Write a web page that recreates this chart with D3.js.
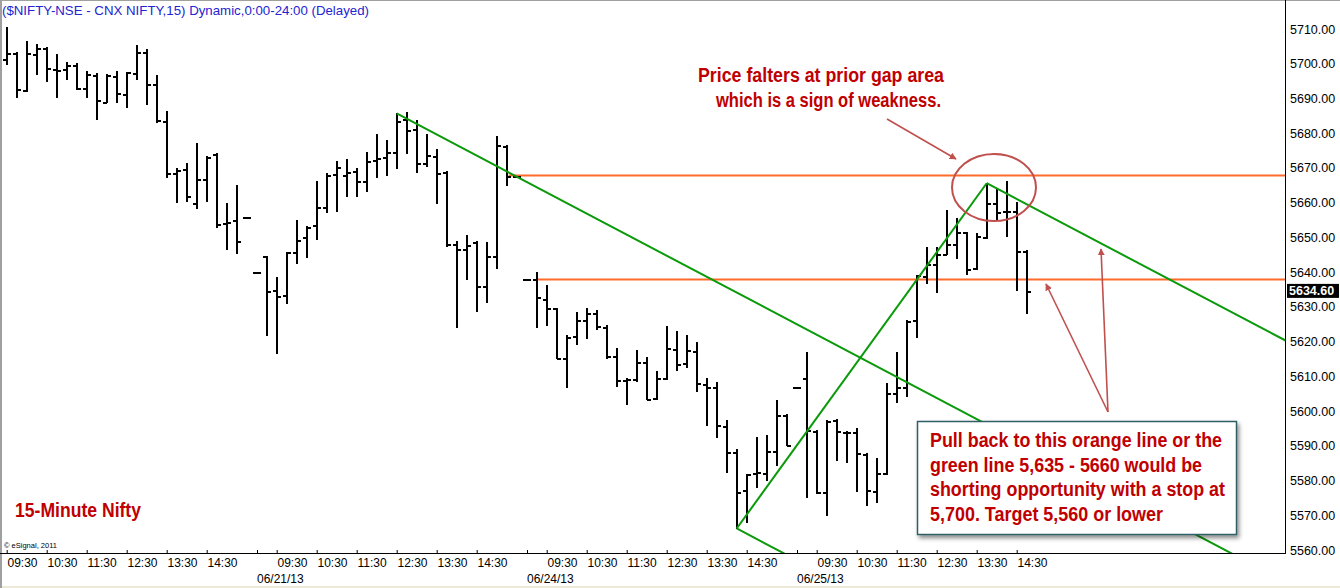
<!DOCTYPE html>
<html><head><meta charset="utf-8">
<script src="https://cdn.jsdelivr.net/npm/d3@7"></script>
<style>body{margin:0;background:#fff;overflow:hidden}svg{display:block}</style>
</head><body><svg id="c" width="1340" height="588"></svg>
<script>
// ---- data (15-minute bars, index = slot on the time axis) ----
const opens  = [5701.3,5703.2,5692.4,5702.8,5704.6,5698.5,5698.4,5699.6,5693.1,5696.8,5689.1,5696.5,5691.3,5697.2,5703.5,5694.2,5683.6,5668.6,5669.8,5660.0,5666.9,5674.0,5654.2,5655.0,5655.8,
  5639.9,5644.7,5634.8,5633.4,5645.8,5650.0,5653.7,5658.7,5668.2,5668.0,5669.2,5666.1,5672.3,5673.2,5674.7,5684.0,5681.1,5671.5,5673.5,5668.9,5648.1,5646.7,5648.8,5636.0,5644.6,5676.3,5667.7,
  5637.9,5637.9,5632.4,5629.6,5615.4,5621.6,5626.2,5628.1,5624.3,5615.8,5609.0,5609.1,5614.2,5603.7,5609.4,5618.0,5613.7,5617.4,5607.8,5607.0,5595.7,5588.3,5577.3,5582.1,5582.3,5588.5,5598.9,
  5606.8,5609.4,5594.3,5576.8,5597.4,5594.0,5594.0,5587.6,5577.1,5582.3,5605.1,5606.8,5626.2,5638.9,5642.3,5645.1,5648.1,5651.6,5641.1,5650.2,5659.8,5657.7,5657.7,5646.2];
const highs  = [5710.7,5703.4,5706.5,5705.7,5704.9,5702.7,5700.4,5700.1,5697.9,5697.4,5697.0,5697.9,5697.7,5705.4,5704.1,5696.7,5686.4,5669.9,5671.3,5677.3,5673.4,5674.2,5659.8,5665.0,5655.8,
  5639.9,5644.7,5638.5,5645.7,5655.0,5653.3,5666.2,5668.4,5672.0,5672.6,5669.9,5674.6,5679.8,5678.0,5685.7,5686.0,5683.8,5679.8,5675.4,5669.0,5649.1,5650.6,5649.1,5648.8,5679.3,5676.5,5667.7,
  5637.9,5639.9,5636.3,5629.8,5621.9,5628.4,5629.6,5629.1,5624.8,5618.1,5609.4,5617.6,5615.7,5611.5,5624.5,5623.0,5621.9,5619.8,5609.4,5608.5,5597.4,5589.0,5581.9,5592.4,5593.1,5603.2,5599.1,
  5606.8,5616.9,5594.5,5597.4,5597.7,5594.2,5595.0,5587.8,5586.4,5608.0,5617.1,5626.2,5639.2,5647.3,5647.1,5657.9,5655.7,5651.6,5651.3,5665.6,5664.1,5666.2,5660.3,5646.4];
const lows   = [5699.8,5690.5,5692.2,5697.0,5695.0,5690.5,5695.5,5692.8,5690.3,5684.0,5689.1,5688.9,5687.4,5695.6,5688.3,5683.2,5667.5,5660.1,5660.6,5658.6,5660.6,5652.9,5646.6,5645.6,5655.8,
  5639.9,5621.9,5616.6,5631.2,5642.5,5644.3,5649.6,5657.4,5657.7,5662.0,5662.0,5663.5,5667.5,5668.1,5670.1,5674.4,5668.9,5670.6,5660.0,5647.6,5624.3,5638.1,5628.7,5631.3,5641.1,5665.0,5667.7,
  5637.9,5624.3,5624.8,5615.2,5606.8,5619.3,5621.1,5623.5,5615.2,5607.3,5602.0,5608.6,5603.4,5603.4,5609.1,5611.8,5612.8,5605.9,5596.0,5592.6,5582.5,5566.2,5568.1,5578.0,5580.1,5584.5,5590.2,
  5606.8,5575.3,5576.3,5570.1,5585.9,5585.4,5577.1,5572.9,5573.7,5581.9,5602.5,5604.4,5621.4,5637.0,5634.4,5645.1,5644.0,5639.4,5640.9,5649.7,5655.0,5650.5,5634.8,5628.1];
const closes = [5703.2,5692.6,5703.0,5704.4,5698.8,5698.3,5699.6,5693.0,5697.0,5689.6,5696.8,5691.5,5697.5,5703.3,5694.2,5683.8,5668.6,5669.4,5661.9,5666.9,5673.2,5653.9,5654.4,5649.1,5655.8,
  5639.9,5634.7,5633.1,5645.7,5649.2,5653.0,5658.8,5668.1,5670.2,5668.7,5666.1,5672.1,5672.9,5674.6,5683.6,5680.9,5671.3,5673.7,5668.6,5648.0,5646.8,5647.8,5636.0,5644.6,5676.7,5667.8,5667.7,
  5637.9,5632.9,5629.8,5615.4,5621.4,5626.2,5628.3,5624.5,5615.8,5609.0,5609.1,5614.2,5603.5,5609.6,5618.2,5613.5,5617.6,5608.0,5607.0,5596.0,5588.3,5576.8,5581.8,5582.4,5588.6,5598.9,5590.2,
  5606.8,5594.5,5576.8,5597.1,5594.3,5594.0,5587.8,5577.3,5582.3,5605.1,5606.8,5626.0,5639.2,5642.3,5645.1,5648.1,5651.6,5640.9,5650.5,5659.8,5657.4,5657.7,5646.2,5634.6];

const timeLabels = ["09:30","10:30","11:30","12:30","13:30","14:30"];
const dayStartSlots = [-2, 25, 52, 79];
const dateLabels = ["", "06/21/13", "06/24/13", "06/25/13"];
const yTickValues = [5560,5570,5580,5590,5600,5610,5620,5630,5640,5650,5660,5670,5680,5690,5700,5710];
const lastPrice = 5634.60;
const gapLevelPrices = [5668, 5638];
const gapLevelStarts = [50.2, 53];
// trend lines: [startSlot, startPrice, endSlot, endPrice]
const trendLines = [
  [39, 5685.7, 125, 5555.2],
  [73, 5566.2, 85, 5548.0],
  [73, 5566.2, 98, 5665.6],
  [98, 5665.6, 130, 5617.1]
];
const titleText = "($NIFTY-NSE - CNX NIFTY,15) Dynamic,0:00-24:00 (Delayed)";
const noteTop = ["Price falters at prior gap area", "which is a sign of weakness."];
const noteBox = ["Pull back to this orange line or the", "green line 5,635 - 5660 would be", "shorting opportunity with a stop at", "5,700. Target 5,560 or lower"];
const chartLabel = "15-Minute Nifty";

// ---- layout ----
const svg = d3.select("#c");
const plotRight = 1285, plotBottom = 553;
const x = d3.scaleLinear().domain([0, 102]).range([6.7, 1026.7]);
const y = d3.scaleLinear().domain([5560, 5710]).range([550, 29]);

const defs = svg.append("defs");
defs.append("clipPath").attr("id","plotclip").append("rect").attr("x",0).attr("y",0).attr("width",plotRight).attr("height",plotBottom);
const f = defs.append("filter").attr("id","sh").attr("x","-10%").attr("y","-10%").attr("width","130%").attr("height","140%");
f.append("feDropShadow").attr("dx",2).attr("dy",3).attr("stdDeviation",2).attr("flood-color","#000").attr("flood-opacity",0.45);
const mk = defs.append("marker").attr("id","arr").attr("viewBox","0 0 10 10").attr("refX",9).attr("refY",5)
  .attr("markerWidth",7).attr("markerHeight",7).attr("markerUnits","userSpaceOnUse").attr("orient","auto");
mk.append("path").attr("d","M0,0 L10,5 L0,10 Z").attr("fill","#c0504d");

svg.append("rect").attr("width",1340).attr("height",588).attr("fill","#fff");
svg.append("rect").attr("x",0).attr("y",586).attr("width",1340).attr("height",2).attr("fill","#ece9d8");
svg.append("rect").attr("x",0).attr("y",0).attr("width",2).attr("height",588).attr("fill","#a0a0a0");
svg.append("rect").attr("x",0).attr("y",0).attr("width",1340).attr("height",1).attr("fill","#a0a0a0");

const plot = svg.append("g").attr("clip-path","url(#plotclip)");

// gap levels
plot.selectAll("line.gap").data(gapLevelPrices).join("line").attr("class","gap")
  .attr("x1",(d,i)=>x(gapLevelStarts[i])).attr("x2",plotRight)
  .attr("y1",d=>Math.round(y(d))+0.5).attr("y2",d=>Math.round(y(d))+0.5)
  .attr("stroke","#ff6a2b").attr("stroke-width",2);

// OHLC bars
const idx = d3.range(opens.length);
const bars = plot.append("g").attr("stroke","#000").attr("stroke-width",2).attr("shape-rendering","crispEdges");
idx.forEach(i=>{
  const cx = Math.round(x(i));
  bars.append("line").attr("x1",cx).attr("x2",cx).attr("y1",Math.round(y(highs[i]))).attr("y2",Math.round(y(lows[i]))+1);
  bars.append("line").attr("x1",cx-4).attr("x2",cx).attr("y1",Math.round(y(opens[i]))+0.5).attr("y2",Math.round(y(opens[i]))+0.5);
  bars.append("line").attr("x1",cx).attr("x2",cx+4).attr("y1",Math.round(y(closes[i]))+0.5).attr("y2",Math.round(y(closes[i]))+0.5);
});

// trend lines
plot.selectAll("line.tr").data(trendLines).join("line").attr("class","tr")
  .attr("x1",d=>x(d[0])).attr("y1",d=>y(d[1])).attr("x2",d=>x(d[2])).attr("y2",d=>y(d[3]))
  .attr("stroke","#0a9a0a").attr("stroke-width",2);

// axes frame
svg.append("line").attr("x1",plotRight+0.5).attr("x2",plotRight+0.5).attr("y1",0).attr("y2",plotBottom+1).attr("stroke","#000");
svg.append("line").attr("x1",0).attr("x2",plotRight+1).attr("y1",plotBottom+0.5).attr("y2",plotBottom+0.5).attr("stroke","#000");

// y axis
const yAx = svg.append("g").attr("transform",`translate(${plotRight},0)`)
  .call(d3.axisRight(y).tickValues(yTickValues).tickSize(0).tickPadding(5).tickFormat(d3.format(".2f")));
yAx.select(".domain").remove();
yAx.selectAll("text").attr("font-family","Liberation Sans, Arial, sans-serif").attr("font-size","12.5px").attr("fill","#000");

// last price marker
const lp = svg.append("g");
lp.append("rect").attr("x",plotRight+2).attr("y",y(lastPrice)-7).attr("width",52).attr("height",14).attr("fill","#000");
lp.append("text").attr("x",plotRight+4).attr("y",y(lastPrice)+4.5).text(lastPrice.toFixed(2))
  .attr("font-family","Liberation Sans, Arial, sans-serif").attr("font-size","12.5px").attr("font-weight","bold").attr("fill","#fff");

// x axis: time ticks
const timeSlots = [], timeTexts = [];
dayStartSlots.forEach(s=>timeLabels.forEach((t,k)=>{timeSlots.push(s+2+4*k); timeTexts.push(t);}));
const xAx = svg.append("g").attr("transform",`translate(0,${plotBottom})`)
  .call(d3.axisBottom(x).tickValues(timeSlots).tickSize(3).tickPadding(2).tickFormat((d,i)=>timeTexts[i]));
xAx.select(".domain").remove();
xAx.selectAll("line").attr("stroke","#000").attr("transform","translate(0,-3)");
xAx.selectAll("text").attr("text-anchor","start").attr("dx","0.3").attr("font-family","Liberation Sans, Arial, sans-serif").attr("font-size","12px").attr("fill","#000");

// day separators and date labels
const dg = svg.append("g");
dayStartSlots.forEach((s,i)=>{
  if(!dateLabels[i]) return;
  const dx = Math.round(x(s));
  dg.append("line").attr("x1",dx+0.5).attr("x2",dx+0.5).attr("y1",plotBottom-3).attr("y2",plotBottom+1).attr("stroke","#000");
  dg.append("text").attr("x",dx).attr("y",583).text(dateLabels[i])
    .attr("font-family","Liberation Sans, Arial, sans-serif").attr("font-size","12px").attr("fill","#000");
});

// title
svg.append("text").attr("x",2).attr("y",15).text(titleText).attr("textLength",367).attr("lengthAdjust","spacingAndGlyphs")
  .attr("font-family","Liberation Sans, Arial, sans-serif").attr("font-size","13px").attr("fill","#2424d0");

// copyright
svg.append("text").attr("x",4).attr("y",548).text("\u00a9 eSignal, 2011")
  .attr("font-family","Liberation Sans, Arial, sans-serif").attr("font-size","7.5px").attr("fill","#000");

// annotations
const redFont = t=>t.attr("font-family","Liberation Sans Narrow, Arial Narrow, Liberation Sans, sans-serif").attr("font-size","20px").attr("font-weight","bold").attr("fill","#c00000").attr("lengthAdjust","spacingAndGlyphs");
const topStarts = [698, 716], topLens = [246, 225], topBase = [82, 107];
noteTop.forEach((t,i)=>redFont(svg.append("text").attr("x",topStarts[i]).attr("y",topBase[i]).attr("textLength",topLens[i]).text(t)));
redFont(svg.append("text").attr("x",15).attr("y",517).attr("textLength",126).text(chartLabel));

// circle
svg.append("ellipse").attr("cx",994).attr("cy",187.5).attr("rx",42).attr("ry",33.5).attr("fill","none").attr("stroke","#c0504d").attr("stroke-width",2);

// arrows
const arrows = [[887,119,956,159],[1108,412,1046,284],[1108,412,1101,249]];
svg.selectAll("line.ar").data(arrows).join("line").attr("class","ar")
  .attr("x1",d=>d[0]).attr("y1",d=>d[1]).attr("x2",d=>d[2]).attr("y2",d=>d[3])
  .attr("stroke","#c0504d").attr("stroke-width",1.6).attr("marker-end","url(#arr)");

// box
svg.append("rect").attr("x",917.5).attr("y",421.5).attr("width",319).attr("height",113).attr("fill","#fff")
  .attr("stroke","#2e5e66").attr("stroke-width",1.5).attr("filter","url(#sh)");
const boxLens = [292, 272, 295, 233], boxBase = [447, 472, 496, 521];
noteBox.forEach((t,i)=>redFont(svg.append("text").attr("x",930).attr("y",boxBase[i]).attr("textLength",boxLens[i]).text(t)));
</script></body></html>
